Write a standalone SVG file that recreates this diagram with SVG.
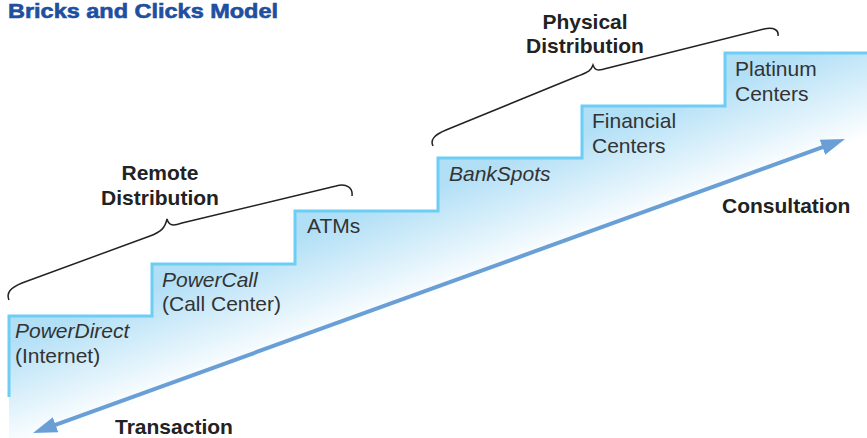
<svg xmlns="http://www.w3.org/2000/svg" width="867" height="438" viewBox="0 0 867 438">
<style>
.step{font-family:"Liberation Sans",Arial,sans-serif;font-size:21px;fill:#333}
.it{font-style:italic}
.lbl{font-family:"Liberation Sans",Arial,sans-serif;font-size:21px;font-weight:bold;fill:#222}
.brace{fill:none;stroke:#222;stroke-width:1.5}
.stair{fill:none;stroke:#6dcdf4;stroke-width:3}
</style>
<defs>
<linearGradient id="g" gradientUnits="userSpaceOnUse" x1="152" y1="290" x2="187" y2="386">
<stop offset="0" stop-color="#b1dff6"/>
<stop offset="1" stop-color="#ffffff"/>
</linearGradient>
<marker id="ah" markerUnits="userSpaceOnUse" markerWidth="24" markerHeight="16" refX="9" refY="8" orient="auto-start-reverse">
<path d="M0,0 L24,8 L0,16 z" fill="#6a9fd6"/>
</marker>
</defs>
<rect width="867" height="438" fill="#fff"/>
<path d="M9 316 H152 V264 H295 V211 H438 V158 H582 V106 H725 V53 H867 V438 H9 Z" fill="url(#g)"/>
<path class="stair" d="M9 397 V316 H152 V264 H295 V211 H438 V158 H582 V106 H725 V53 H867"/>
<text x="8" y="18" font-family="'Liberation Sans',Arial,sans-serif" font-size="20" font-weight="bold" fill="#1e4fa0" stroke="#1e4fa0" stroke-width="0.6" textLength="270" lengthAdjust="spacingAndGlyphs">Bricks and Clicks Model</text>
<g id="remote-brace">
<path class="brace" d="M9 300 C6 293 10 288 22 283 L150 236 C161 232 165 228 167 219 C169 226 173 226 182 223 L336 186 C347 183 353 188 352 196"/>
<text class="lbl" x="160" y="180" text-anchor="middle">Remote</text>
<text class="lbl" x="160" y="205" text-anchor="middle">Distribution</text>
</g>
<g id="physical-brace">
<path class="brace" d="M433 146 C430 140 434 135 446 130 L578 76 C588 72 591 71 593 65 C595 71 598 71 608 68 L764 29 C774 27 779 30 778 36"/>
<text class="lbl" x="585" y="29" text-anchor="middle">Physical</text>
<text class="lbl" x="585" y="53" text-anchor="middle">Distribution</text>
</g>
<g id="powerdirect">
<text class="step it" x="15" y="338">PowerDirect</text>
<text class="step" x="15" y="363">(Internet)</text>
</g>
<g id="powercall">
<text class="step it" x="162" y="287">PowerCall</text>
<text class="step" x="162" y="311">(Call Center)</text>
</g>
<g id="atms">
<text class="step" x="307" y="233">ATMs</text>
</g>
<g id="bankspots">
<text class="step it" x="449" y="181">BankSpots</text>
</g>
<g id="financial">
<text class="step" x="592" y="128">Financial</text>
<text class="step" x="592" y="153">Centers</text>
</g>
<g id="platinum">
<text class="step" x="735" y="76">Platinum</text>
<text class="step" x="735" y="101">Centers</text>
</g>
<g id="connectors">
<line x1="47.1" y1="427.9" x2="830.9" y2="144.1" stroke="#6a9fd6" stroke-width="4" marker-start="url(#ah)" marker-end="url(#ah)"/>
</g>
<g id="consultation"><text class="lbl" x="722" y="213">Consultation</text></g>
<g id="transaction"><text class="lbl" x="115" y="434">Transaction</text></g>
</svg>
